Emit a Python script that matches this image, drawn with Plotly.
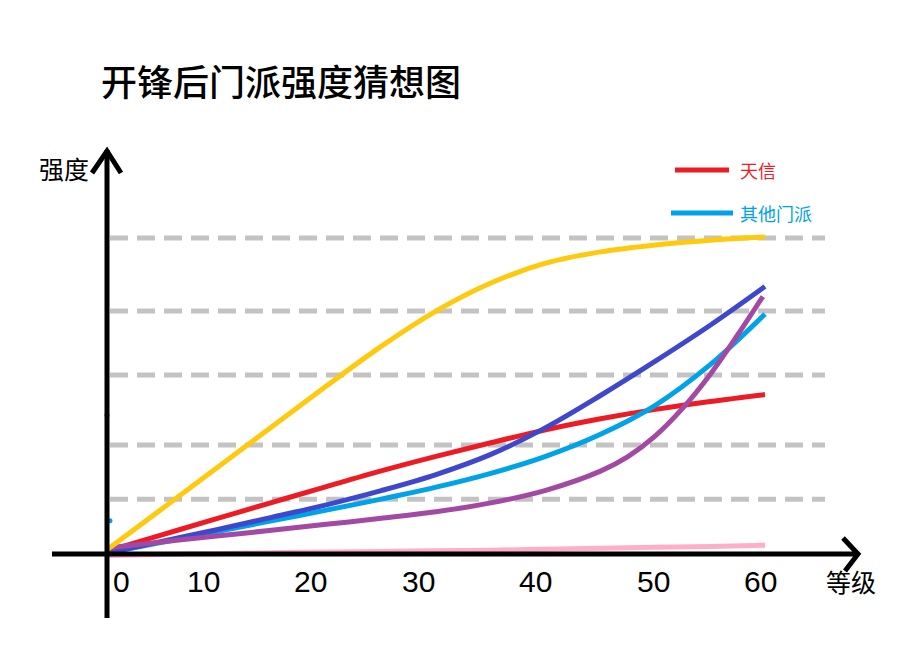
import plotly.graph_objects as go

# ---------------- data ----------------
levels = [0, 5, 10, 15, 20, 25, 30, 35, 40, 45, 50, 55, 60]
yellow = [1.0, 14.0, 27.0, 40.0, 53.0, 65.6, 76.8, 85.7, 92.0, 95.6, 97.8, 99.3, 100.3]
red = [0.6, 5.75, 10.9, 16.0, 21.1, 26.1, 30.7, 35.0, 39.1, 42.6, 45.6, 48.1, 50.3]
blue = [0.0, 3.7, 7.4, 11.3, 15.3, 19.8, 24.9, 31.3, 39.8, 50.0, 60.9, 72.3, 84.6]
cyan = [0.0, 3.4, 6.8, 10.2, 13.6, 17.1, 20.9, 25.3, 30.7, 37.7, 46.9, 59.8, 75.9]
pink = [-0.8, -0.5, -0.2, 0.1, 0.3, 0.5, 0.7, 0.9, 1.2, 1.5, 1.8, 2.1, 2.5]

purple_levels = [0, 5, 10, 15, 20, 25, 30, 35, 40, 45, 47.5, 50, 52.5, 55, 57.5, 59.8]
purple = [1.6, 3.5, 5.4, 7.2, 9.1, 11.0, 13.1, 15.9, 19.9, 26.0, 30.6, 37.2, 46.0, 56.7, 69.2, 81.4]

grid_levels = [100, 76.8, 56.5, 34.3, 17.1]          # dashed reference lines (strength)
tick_labels = ["0", "10", "20", "30", "40", "50", "60"]
tick_positions = [1.28, 8.80, 18.56, 28.40, 39.07, 49.79, 59.59]  # where the labels sit (hand placed)

stray_x = [0.0, 0.27]        # two stray paint dots near the y axis
stray_y = [43.8, 10.2]

legend_names = ["天信", "其他门派"]
legend_colors = ["#ED1C24", "#00A2E8"]

title_text = "开锋后门派强度猜想图"
y_label = "强度"
x_label = "等级"

# ---------------- figure geometry ----------------
W, H = 922, 658
PX_PER_LEVEL = 658 / 60.0
X0_PX = 107.0
PX_PER_STR = 3.15
Y0_PX = 553.0

x_range = [(0 - X0_PX) / PX_PER_LEVEL, (W - X0_PX) / PX_PER_LEVEL]
y_range = [(Y0_PX - H) / PX_PER_STR, (Y0_PX - 0) / PX_PER_STR]


def px(x):
    return x / W


def py(y):
    return 1 - y / H


CJK = "Noto Sans CJK SC"
LAT = "Liberation Sans, Arial, sans-serif"

fig = go.Figure()

# dashed grey reference lines
x_grid = [(110 - X0_PX) / PX_PER_LEVEL, (825 - X0_PX) / PX_PER_LEVEL]
for g in grid_levels:
    fig.add_trace(go.Scatter(
        x=x_grid, y=[g, g], mode="lines",
        line=dict(color="#C3C3C3", width=5, dash="18px,9px"),
        hoverinfo="skip", showlegend=False))

series = [
    ("粉色", levels, pink, "#FFAEC9"),
    ("天信", levels, red, "#ED1C24"),
    ("其他门派", levels, cyan, "#00A2E8"),
    ("蓝色", levels, blue, "#3F48CC"),
    ("紫色", purple_levels, purple, "#A349A4"),
    ("黄色", levels, yellow, "#FFC90E"),
]
for name, xs, vals, col in series:
    fig.add_trace(go.Scatter(
        x=xs, y=vals, mode="lines", name=name,
        line=dict(color=col, width=5, shape="spline", smoothing=1.0),
        showlegend=False))

fig.add_trace(go.Scatter(
    x=stray_x, y=stray_y, mode="markers",
    marker=dict(color=["#ED1C24", "#00A2E8"], size=5),
    hoverinfo="skip", showlegend=False))

shapes = []
# y axis with arrow
shapes.append(dict(type="line", xref="paper", yref="paper",
                   x0=px(107), y0=py(150), x1=px(107), y1=py(618),
                   line=dict(color="black", width=5)))
shapes.append(dict(type="path", xref="paper", yref="paper",
                   path=f"M {px(92)},{py(173)} L {px(107)},{py(151)} L {px(121)},{py(173)}",
                   line=dict(color="black", width=5)))
# x axis with arrow
shapes.append(dict(type="line", xref="paper", yref="paper",
                   x0=px(52), y0=py(554), x1=px(858), y1=py(554),
                   line=dict(color="black", width=5)))
shapes.append(dict(type="path", xref="paper", yref="paper",
                   path=f"M {px(843)},{py(538)} L {px(858)},{py(554)} L {px(845)},{py(571)}",
                   line=dict(color="black", width=5)))

annotations = []
for pos, lab in zip(tick_positions, tick_labels):
    annotations.append(dict(x=pos, xref="x", y=py(581), yref="paper", text=lab,
                            showarrow=False, xanchor="center", yanchor="middle",
                            font=dict(family=LAT, size=30, color="black")))
annotations.append(dict(x=px(64), y=py(168), xref="paper", yref="paper", text=y_label,
                        showarrow=False, xanchor="center", yanchor="middle",
                        font=dict(family=CJK, size=25, color="black")))
annotations.append(dict(x=px(851), y=py(581), xref="paper", yref="paper", text=x_label,
                        showarrow=False, xanchor="center", yanchor="middle",
                        font=dict(family=CJK, size=25, color="black")))

# manual legend
legend_rows = [(170, 675, 729), (213, 671, 733)]
for (yy, xa, xb), name, col in zip(legend_rows, legend_names, legend_colors):
    shapes.append(dict(type="line", xref="paper", yref="paper",
                       x0=px(xa), y0=py(yy), x1=px(xb), y1=py(yy),
                       line=dict(color=col, width=5)))
    annotations.append(dict(x=px(738), y=py(yy), xref="paper", yref="paper", text=name,
                            showarrow=False, xanchor="left", yanchor="middle",
                            font=dict(family=CJK, size=18, color=col)))

fig.update_layout(
    width=W, height=H,
    margin=dict(l=0, r=0, t=0, b=0),
    paper_bgcolor="white", plot_bgcolor="white",
    title=dict(text=title_text, x=px(101), xanchor="left", y=py(83), yanchor="middle",
               font=dict(family=CJK, size=36, color="black", weight=500)),
    xaxis=dict(range=x_range, visible=False, fixedrange=True),
    yaxis=dict(range=y_range, visible=False, fixedrange=True),
    shapes=shapes, annotations=annotations,
    showlegend=False,
)

fig.write_html("out.html", config={"displayModeBar": False},
               post_script="document.body.style.margin='0';document.body.style.overflow='hidden';")
